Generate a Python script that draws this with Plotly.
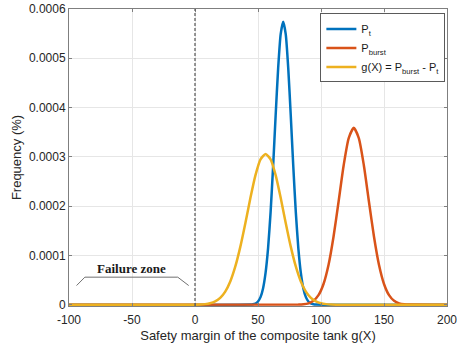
import plotly.graph_objects as go

# ---- data ----
pt_x = [-100, 44, 46, 48, 50, 52, 54, 56, 58, 60, 62, 64, 66, 68, 70, 72, 74, 76, 78, 80, 82, 84, 86, 88, 90, 92, 94, 96, 200]
pt_y = [0, 0.0000003, 0.0000009, 0.0000026, 0.0000067, 0.0000155, 0.0000332, 0.0000647, 0.000115, 0.000188, 0.000281,
        0.000384, 0.000480, 0.000549, 0.000574, 0.000549, 0.000480, 0.000384, 0.000281, 0.000188, 0.000115,
        0.0000647, 0.0000332, 0.0000155, 0.0000067, 0.0000026, 0.0000009, 0.0000003, 0]

pb_x = [-100, 82, 86, 90, 94, 98, 102, 106, 110, 114, 118, 122, 126, 130, 134, 138, 142, 146, 150, 154, 158, 162, 166, 170, 200]
pb_y = [0, 0.0000003, 0.0000009, 0.0000029, 0.0000080, 0.0000195, 0.0000422, 0.0000812, 0.000139, 0.000210, 0.000283,
        0.000338, 0.000359, 0.000338, 0.000283, 0.000210, 0.000139, 0.0000812, 0.0000422, 0.0000195, 0.0000080,
        0.0000029, 0.0000009, 0.0000003, 0]

g_x = [-100, 0, 4, 8, 12, 16, 20, 24, 28, 32, 36, 40, 44, 48, 52, 56, 60, 64, 68, 72, 76, 80, 84, 88, 92, 96,
       100, 104, 108, 112, 200]
g_y = [0, 0.0000002, 0.0000005, 0.0000013, 0.0000031, 0.0000068, 0.0000140, 0.0000268, 0.0000474, 0.0000778,
       0.000118, 0.000166, 0.000217, 0.000263, 0.000295, 0.000306, 0.000295, 0.000263, 0.000217, 0.000166,
       0.000118, 0.0000778, 0.0000474, 0.0000268, 0.0000140, 0.0000068, 0.0000031, 0.0000013, 0.0000005,
       0.0000002, 0]

series_names = ["P<sub>t</sub>", "P<sub>burst</sub>", "g(X) = P<sub>burst</sub> - P<sub>t</sub>"]
colors = ["#0072BD", "#D95319", "#EDB120"]

x_ticks = [-100, -50, 0, 50, 100, 150, 200]
x_ticktext = ["-100", "-50", "0", "50", "100", "150", "200"]
y_ticks = [0, 0.0001, 0.0002, 0.0003, 0.0004, 0.0005, 0.0006]
y_ticktext = ["0", "0.0001", "0.0002", "0.0003", "0.0004", "0.0005", "0.0006"]

fig = go.Figure()
for xs, ys, name, c in zip([pt_x, pb_x, g_x], [pt_y, pb_y, g_y], series_names, colors):
    fig.add_trace(go.Scatter(x=xs, y=ys, mode="lines", name=name,
                             line=dict(color=c, width=2.5, shape="spline", smoothing=0.6)))

font = "Liberation Sans, Arial, sans-serif"
axis_common = dict(showline=True, linecolor="#7f7f7f", linewidth=1, mirror="ticks",
                   ticks="inside", ticklen=3, tickcolor="#7f7f7f", automargin=False,
                   ticklabeloverflow="allow",
                   showgrid=True, gridcolor="#e6e6e6", gridwidth=1, zeroline=False,
                   tickfont=dict(family=font, size=12, color="#262626"))

fig.update_xaxes(range=[-100, 200], tickvals=x_ticks, ticktext=x_ticktext, ticklabelstandoff=3,
                 title=dict(text="Safety margin of the composite tank g(X)",
                            font=dict(family=font, size=13, color="#262626"), standoff=4),
                 **axis_common)
fig.update_yaxes(range=[-0.0000025, 0.0006], tickvals=y_ticks, ticktext=y_ticktext,
                 title=dict(text="Frequency (%)", font=dict(family=font, size=13, color="#262626"),
                            standoff=4),
                 **axis_common)

# vertical dashed line at x=0
fig.add_shape(type="line", xref="x", yref="paper", x0=0, x1=0, y0=0, y1=1,
              line=dict(color="#555555", width=1.2, dash="3px,2px"))

# failure zone bracket
fig.add_shape(type="path", xref="x", yref="y",
              path="M -94,0.000039 L -87.4,0.000056 L -13.7,0.000056 L -5,0.000039",
              line=dict(color="#707070", width=1))
fig.add_annotation(x=-50.5, y=0.0000745, xref="x", yref="y", text="<b>Failure zone</b>",
                   showarrow=False, font=dict(family="Liberation Serif, Times New Roman, serif",
                                              size=13, color="#1a1a1a"))

fig.update_layout(
    width=457, height=348,
    margin=dict(l=69, r=10, t=9, b=42),
    paper_bgcolor="white", plot_bgcolor="white",
    showlegend=True,
    legend=dict(x=0.665, y=0.985, xanchor="left", yanchor="top",
                bgcolor="white", bordercolor="#5a5a5a", borderwidth=1,
                font=dict(family=font, size=11, color="#1a1a1a"),
                tracegroupgap=0, itemwidth=30),
)

fig.write_html("out.html", config={"displayModeBar": False},
               post_script="document.body.style.margin='0';document.body.style.overflow='hidden';")
